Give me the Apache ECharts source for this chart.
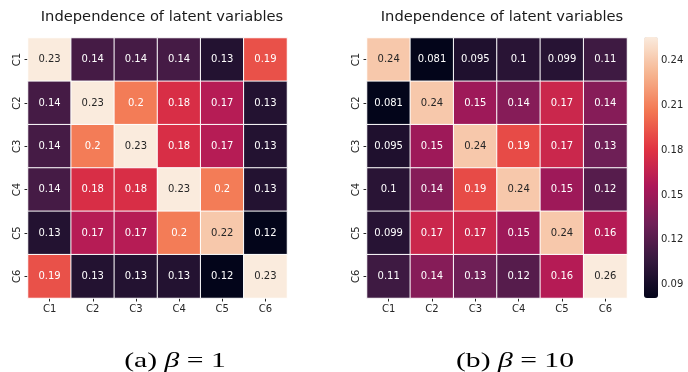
<!DOCTYPE html>
<html>
<head>
<meta charset="utf-8">
<style>
  html, body { margin: 0; padding: 0; background: #fff; }
  #chart { width: 688px; height: 372px; }
</style>
<script src="https://cdn.jsdelivr.net/npm/echarts@6/dist/echarts.min.js"></script>
</head>
<body>
<div id="chart"></div>
<script>
// Latent factor labels shared by both matrices
const categories = ['C1', 'C2', 'C3', 'C4', 'C5', 'C6'];

// Pairwise dependence between latent variables, beta = 1
const valuesBeta1 = [
  [0.23, 0.14, 0.14, 0.14, 0.13, 0.19],
  [0.14, 0.23, 0.2,  0.18, 0.17, 0.13],
  [0.14, 0.2,  0.23, 0.18, 0.17, 0.13],
  [0.14, 0.18, 0.18, 0.23, 0.2,  0.13],
  [0.13, 0.17, 0.17, 0.2,  0.22, 0.12],
  [0.19, 0.13, 0.13, 0.13, 0.12, 0.23]
];

// Pairwise dependence between latent variables, beta = 10
const valuesBeta10 = [
  [0.24,  0.081, 0.095, 0.1,  0.099, 0.11],
  [0.081, 0.24,  0.15,  0.14, 0.17,  0.14],
  [0.095, 0.15,  0.24,  0.19, 0.17,  0.13],
  [0.1,   0.14,  0.19,  0.24, 0.15,  0.12],
  [0.099, 0.17,  0.17,  0.15, 0.24,  0.16],
  [0.11,  0.14,  0.13,  0.12, 0.16,  0.26]
];

// Colour scale limits for each panel
const colorRangeBeta1 = [0.12, 0.23];
const colorRangeBeta10 = [0.081, 0.256];

// Colour bar tick labels
const colorbarTicks = [0.09, 0.12, 0.15, 0.18, 0.21, 0.24];

// Panel titles and captions
const panelTitle = 'Independence of latent variables';
const captions = [['(a) ', 'β', ' = 1'], ['(b) ', 'β', ' = 10']];

// "rocket" colour map, evenly spaced stops
const rocket = ['#03051A', '#35193E', '#701F57', '#AD1759', '#E13342', '#F37651', '#F6B48F', '#FAEBDD'];

const FONT = 'DejaVu Sans';
const INK = '#262626';

function toCells(matrix, lim) {
  const [lo, hi] = lim;
  const cells = [];
  matrix.forEach((row, r) => {
    row.forEach((v, c) => {
      const t = (v - lo) / (hi - lo);
      cells.push({
        value: [c, r, v],
        label: { color: t > 0.8 ? INK : '#ffffff' }
      });
    });
  });
  return cells;
}

const grids = [
  { left: 28, top: 38, width: 259, height: 260 },
  { left: 367, top: 38, width: 260, height: 260 },
  { left: 644, top: 37, width: 14, height: 261 }
];

function catX(gridIndex) {
  return {
    type: 'category', gridIndex, data: categories,
    axisLine: { show: false },
    axisTick: { show: true, alignWithLabel: true, length: 3.5, lineStyle: { color: INK, width: 1 } },
    axisLabel: { fontFamily: FONT, fontSize: 10, color: INK, margin: 6 },
    splitLine: { show: false }
  };
}
function catY(gridIndex) {
  return {
    type: 'category', gridIndex, data: categories, inverse: true,
    axisLine: { show: false },
    axisTick: { show: true, alignWithLabel: true, length: 3.5, lineStyle: { color: INK, width: 1 } },
    axisLabel: { fontFamily: FONT, fontSize: 10, color: INK, margin: 6, rotate: 90 },
    splitLine: { show: false }
  };
}

function heatSeries(idx, matrix, lim) {
  return {
    type: 'heatmap',
    xAxisIndex: idx, yAxisIndex: idx,
    data: toCells(matrix, lim),
    itemStyle: { borderColor: '#ffffff', borderWidth: 1 },
    label: {
      show: true, fontFamily: FONT, fontSize: 10,
      formatter: p => String(p.value[2])
    },
    emphasis: { disabled: true }
  };
}

function captionText(parts, cx) {
  return {
    type: 'text',
    x: cx, y: 361,
    scaleX: 1.35,
    style: {
      text: '{n|' + parts[0] + '}{b|' + parts[1] + '}{n|' + parts[2] + '}',
      align: 'center', verticalAlign: 'middle',
      rich: {
        n: { fontFamily: 'Liberation Serif', fontSize: 22, fill: '#000' },
        b: { fontFamily: 'Liberation Serif', fontSize: 22, fontStyle: 'italic', fill: '#000' }
      }
    }
  };
}

const titleStyle = { fontFamily: FONT, fontSize: 14.7, fontWeight: 'normal', color: '#1a1a1a' };

const option = {
  animation: false,
  backgroundColor: '#ffffff',
  title: [
    { text: panelTitle, left: 157, top: 5, textAlign: 'center', textStyle: titleStyle },
    { text: panelTitle, left: 497, top: 5, textAlign: 'center', textStyle: titleStyle }
  ],
  grid: grids,
  xAxis: [catX(0), catX(1), { type: 'value', gridIndex: 2, show: false }],
  yAxis: [
    catY(0), catY(1),
    {
      type: 'value', gridIndex: 2, position: 'right',
      min: colorRangeBeta10[0], max: colorRangeBeta10[1],
      axisLine: { show: false },
      splitLine: { show: false },
      axisTick: { show: true, length: 3.5, customValues: colorbarTicks, lineStyle: { color: INK } },
      axisLabel: { fontFamily: FONT, fontSize: 10, color: INK, margin: 3,
        customValues: colorbarTicks, formatter: v => v.toFixed(2) }
    }
  ],
  visualMap: [
    { type: 'continuous', seriesIndex: 0, min: colorRangeBeta1[0], max: colorRangeBeta1[1], show: false,
      inRange: { color: rocket } },
    { type: 'continuous', seriesIndex: 1, min: colorRangeBeta10[0], max: colorRangeBeta10[1], show: true,
      left: 644, top: 37, itemWidth: 14, itemHeight: 261, padding: 0,
      calculable: false, hoverLink: false, text: null,
      inRange: { color: rocket } }
  ],
  series: [heatSeries(0, valuesBeta1, colorRangeBeta1), heatSeries(1, valuesBeta10, colorRangeBeta10)],
  graphic: [captionText(captions[0], 175), captionText(captions[1], 515)]
};

const chart = echarts.init(document.getElementById('chart'), null, { renderer: 'canvas' });
chart.setOption(option);
</script>
</body>
</html>
